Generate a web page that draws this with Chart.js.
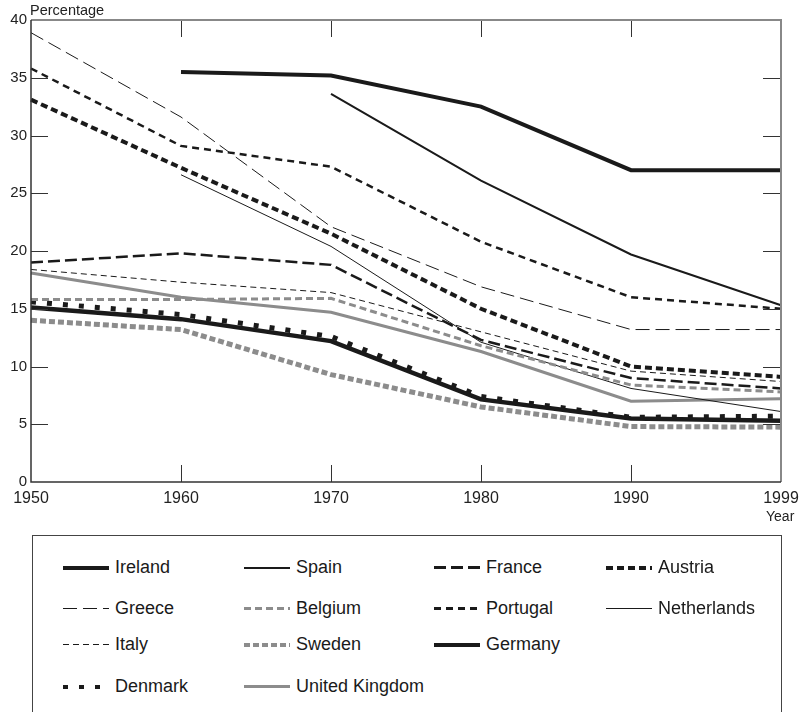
<!DOCTYPE html>
<html>
<head>
<meta charset="utf-8">
<script src="https://cdn.jsdelivr.net/npm/chart.js@4"></script>
<style>
  body { margin: 0; background: #fff; font-family: "Liberation Sans", Arial, sans-serif; }
  #wrap { position: absolute; left: 0; top: 0; width: 803px; height: 530px; }
  .lbl { position: absolute; color: #222; }
  #legend { position: absolute; left: 32px; top: 535px; width: 750px; height: 200px;
            border: 1px solid #444; box-sizing: border-box; }
  .item { position: absolute; display: flex; align-items: center; font-size: 18px; color: #1a1a1a; }
  .item svg { margin-right: 6px; }
</style>
</head>
<body>
<div id="wrap"><canvas id="chart"></canvas></div>
<div class="lbl" style="left:30px; top:2px; font-size:14.5px;">Percentage</div>
<div class="lbl" style="left:766px; top:508px; font-size:14px;">Year</div>
<div id="legend"></div>
<script>
const years = ['1950', '1960', '1970', '1980', '1990', '1999'];
const yTicks = [0, 5, 10, 15, 20, 25, 30, 35, 40];

const ireland = [null, 35.5, 35.2, 32.5, 27.0, 27.0];
const spain = [null, null, 33.6, 26.1, 19.7, 15.3];
const france = [19.0, 19.8, 18.8, 12.3, 9.0, 8.1];
const austria = [33.1, 27.2, 21.5, 15.0, 10.0, 9.1];
const greece = [38.9, 31.6, 22.1, 16.9, 13.2, 13.2];
const belgium = [15.8, 15.8, 15.9, 11.8, 8.4, 7.8];
const portugal = [35.8, 29.1, 27.3, 20.8, 16.0, 15.0];
const netherlands = [null, 26.6, 20.4, 12.1, 8.1, 6.1];
const italy = [18.4, 17.3, 16.4, 13.0, 9.6, 8.7];
const sweden = [14.0, 13.2, 9.3, 6.5, 4.8, 4.75];
const germany = [15.1, 14.1, 12.2, 7.15, 5.5, 5.3];
const denmark = [15.6, 14.5, 12.6, 7.4, 5.6, 5.7];
const uk = [18.1, 16.0, 14.7, 11.3, 7.0, 7.2];

const BLACK = '#1a1a1a';
const GRAY = '#8c8c8c';

// legend grid: row-major, 4 columns
const series = [
  { label: 'Ireland', data: ireland, color: BLACK, width: 4, dash: [] , row: 0, col: 0 },
  { label: 'Spain', data: spain, color: BLACK, width: 2, dash: [], row: 0, col: 1 },
  { label: 'France', data: france, color: BLACK, width: 2.5, dash: [12, 5], row: 0, col: 2 },
  { label: 'Austria', data: austria, color: BLACK, width: 4, dash: [7, 4], row: 0, col: 3 },
  { label: 'Greece', data: greece, color: BLACK, width: 1, dash: [14, 6], row: 1, col: 0 },
  { label: 'Belgium', data: belgium, color: GRAY, width: 3, dash: [7, 4], row: 1, col: 1 },
  { label: 'Portugal', data: portugal, color: BLACK, width: 2.5, dash: [7, 5], row: 1, col: 2 },
  { label: 'Netherlands', data: netherlands, color: BLACK, width: 1, dash: [], row: 1, col: 3 },
  { label: 'Italy', data: italy, color: BLACK, width: 1, dash: [6, 4], row: 2, col: 0 },
  { label: 'Sweden', data: sweden, color: GRAY, width: 5, dash: [6, 3], row: 2, col: 1 },
  { label: 'Germany', data: germany, color: BLACK, width: 4.5, dash: [], row: 2, col: 2 },
  { label: 'Denmark', data: denmark, color: BLACK, width: 5, dash: [5, 11], row: 3, col: 0 },
  { label: 'United Kingdom', data: uk, color: GRAY, width: 3, dash: [], row: 3, col: 1 },
];

const colX = [30, 211, 401, 573];
const rowY = [31, 72, 108, 150];

const legend = document.getElementById('legend');
series.forEach((s) => {
  const div = document.createElement('div');
  div.className = 'item';
  div.style.left = colX[s.col] + 'px';
  div.style.top = (rowY[s.row] - 12) + 'px';
  div.style.height = '24px';
  const dash = s.dash.length ? `stroke-dasharray="${s.dash.join(' ')}"` : '';
  const w = Math.min(s.width, 4);
  div.innerHTML = `<svg width="46" height="10" shape-rendering="crispEdges"><line x1="0" y1="5.5" x2="46" y2="5.5" stroke="${s.color}" stroke-width="${w}" ${dash}/></svg><span>${s.label}</span>`;
  legend.appendChild(div);
});

const frame = {
  id: 'frame',
  afterDatasetsDraw(chart) {
    const { ctx, chartArea: a, scales } = chart;
    ctx.save();
    ctx.lineWidth = 1;
    ctx.strokeStyle = '#333';
    ctx.beginPath();
    yTicks.slice(1, -1).forEach((v) => {
      const y = Math.round(scales.y.getPixelForValue(v)) + 0.5;
      ctx.moveTo(a.left, y); ctx.lineTo(a.left + 17, y);
      ctx.moveTo(a.right - 18, y); ctx.lineTo(a.right, y);
    });
    years.slice(1, -1).forEach((_, i) => {
      const x = Math.round(scales.x.getPixelForValue(i + 1)) + 0.5;
      ctx.moveTo(x, a.top); ctx.lineTo(x, a.top + 17);
      ctx.moveTo(x, a.bottom); ctx.lineTo(x, a.bottom - 17);
    });
    ctx.stroke();
    ctx.lineWidth = 2;
    ctx.strokeStyle = '#888';
    ctx.beginPath();
    ctx.moveTo(a.left, a.top); ctx.lineTo(a.right, a.top); ctx.lineTo(a.right, a.bottom);
    ctx.stroke();
    ctx.lineWidth = 1.5;
    ctx.strokeStyle = '#333';
    ctx.beginPath();
    ctx.moveTo(a.left, a.top); ctx.lineTo(a.left, a.bottom); ctx.lineTo(a.right, a.bottom);
    ctx.stroke();
    ctx.restore();
  },
};

new Chart(document.getElementById('chart'), {
  type: 'line',
  data: {
    labels: years,
    datasets: series.map((s) => ({
      label: s.label,
      data: s.data,
      borderColor: s.color,
      borderWidth: s.width,
      borderDash: s.dash,
      borderCapStyle: 'butt',
      pointRadius: 0,
      tension: 0,
      fill: false,
      spanGaps: false,
    })),
  },
  options: {
    responsive: true,
    maintainAspectRatio: false,
    animation: false,
    layout: { padding: { top: 20, right: 22, left: 0, bottom: 0 } },
    plugins: { legend: { display: false }, tooltip: { enabled: false } },
    scales: {
      x: {
        offset: false,
        grid: { display: false, drawTicks: false },
        border: { display: false },
        ticks: {
          color: '#222', padding: 7, maxRotation: 0, autoSkip: false,
          font: { family: "'Liberation Sans', Arial, sans-serif", size: 16 },
        },
        afterFit(scale) {
          scale.height = 48;
          scale.paddingLeft = 0;
          scale.paddingRight = 0;
        },
      },
      y: {
        min: 0, max: 40,
        grid: { display: false, drawTicks: false },
        border: { display: false },
        ticks: {
          stepSize: 5, color: '#222', padding: 4,
          font: { family: "'Liberation Sans', Arial, sans-serif", size: 15 },
        },
        afterFit(scale) { scale.width = 31; },
      },
    },
  },
  plugins: [frame],
});
</script>
</body>
</html>
